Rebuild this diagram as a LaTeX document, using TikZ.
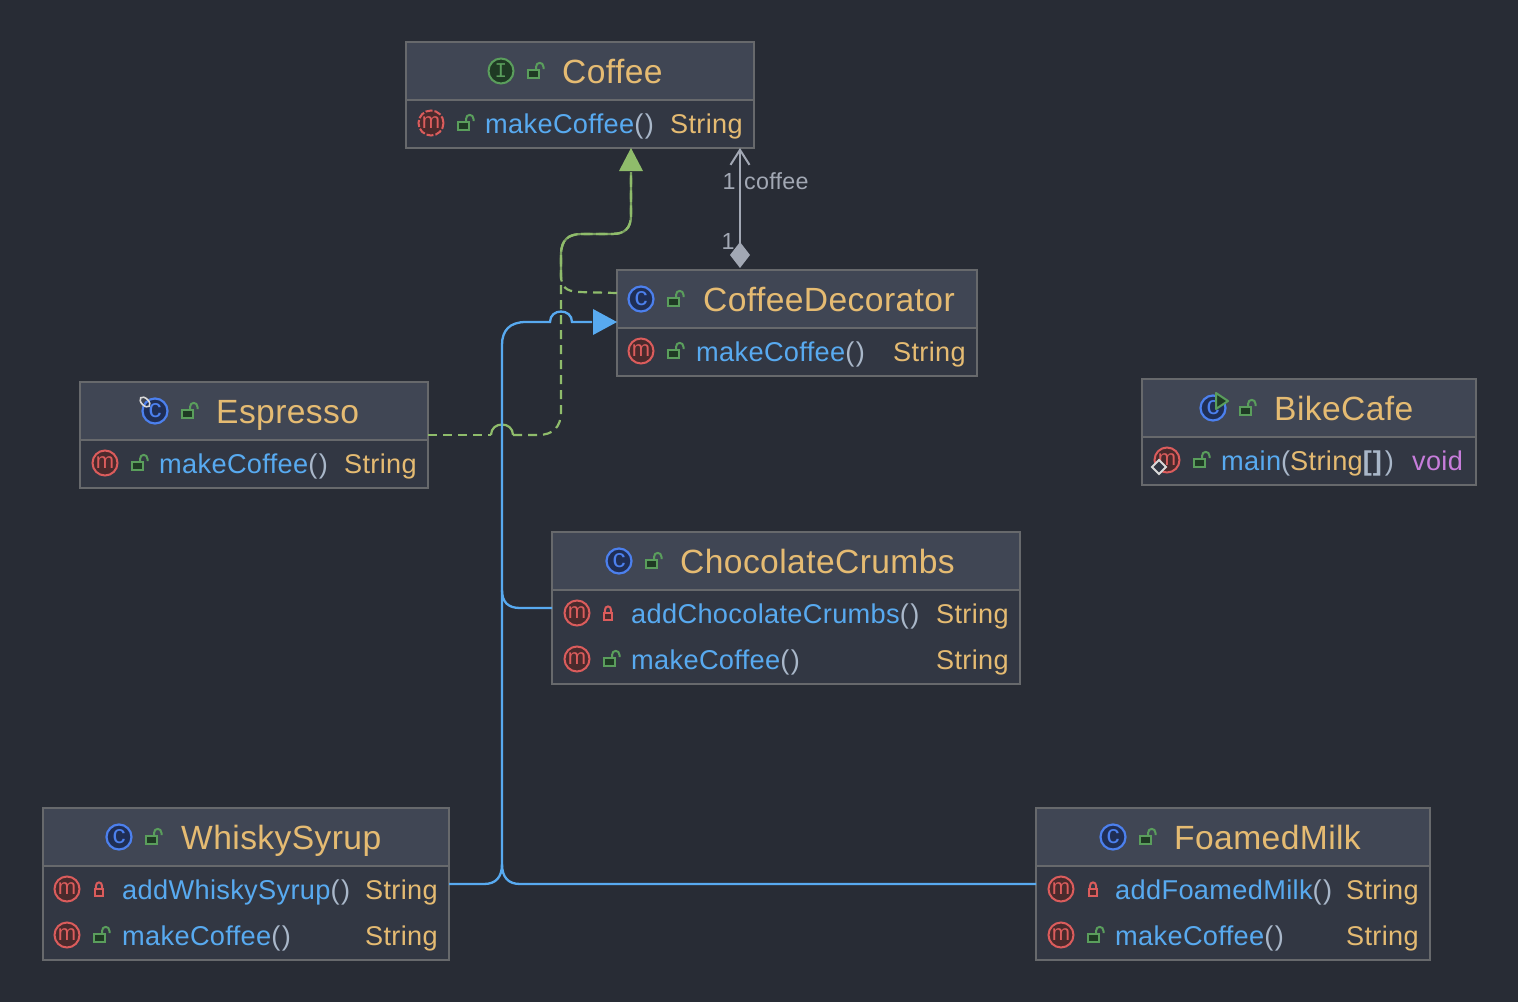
\documentclass[tikz,border=0pt]{standalone}
\usepackage{fontspec}
\setmainfont[LetterSpace=1.2]{Liberation Sans}
\newfontfamily\iconmono{Liberation Mono}
\usetikzlibrary{arrows.meta}
\definecolor{bgc}{HTML}{282C35}
\definecolor{hdrc}{HTML}{404654}
\definecolor{bdyc}{HTML}{323743}
\definecolor{edgec}{HTML}{67696C}
\definecolor{goldc}{HTML}{E5BB72}
\definecolor{bluec}{HTML}{58AAF0}
\definecolor{parc}{HTML}{A9B7C9}
\definecolor{purpc}{HTML}{C77DDB}
\definecolor{greyc}{HTML}{A2A8B4}
\definecolor{greenl}{HTML}{8FBC6B}
\definecolor{lockg}{HTML}{5A9E5C}
\definecolor{lockf}{HTML}{1F3A24}
\definecolor{lockr}{HTML}{DB5C5C}
\definecolor{mred}{HTML}{DB5C5C}
\definecolor{mfill}{HTML}{4A2A2C}
\definecolor{cblue}{HTML}{4C80EE}
\definecolor{cfill}{HTML}{1F2E55}
\tikzset{
  hdrbox/.style={rectangle,fill=hdrc,inner sep=0,outer sep=0},
  bdybox/.style={rectangle,fill=bdyc,inner sep=0,outer sep=0},
  framebox/.style={rectangle,draw=edgec,line width=1.5pt,inner sep=0,outer sep=0},
  sepline/.style={draw=edgec,line width=2pt},
  titletext/.style={anchor=base west,inner sep=0,text=goldc,font=\fontsize{33.6}{36}\selectfont},
  membertext/.style={anchor=base west,inner sep=0,text=bluec,font=\fontsize{27.2}{30}\selectfont},
  typetext/.style={anchor=base west,inner sep=0,text=goldc,font=\fontsize{27.1}{30}\selectfont},
  micon/.style={circle,draw=mred,fill=mfill,text=mred,line width=2pt,minimum size=25pt,inner sep=0,font=\fontsize{22}{22}\selectfont},
  cicon/.style={circle,draw=cblue,fill=cfill,text=cblue,line width=2.2pt,minimum size=25pt,inner sep=0,font=\fontsize{26}{26}\selectfont},
  iicon/.style={circle,draw=lockg,fill=lockf,text=lockg,line width=2pt,minimum size=25pt,inner sep=0,font=\iconmono\fontsize{21}{21}\selectfont},
  lockgbody/.style={rectangle,draw=lockg,fill=lockf,line width=2pt,minimum width=10.5pt,minimum height=8.5pt,inner sep=0},
  lockrbody/.style={rectangle,draw=lockr,fill=mfill,line width=2pt,minimum width=8.5pt,minimum height=7pt,inner sep=0},
  depline/.style={draw=greenl,line width=2.2pt,dash pattern=on 9pt off 6pt},
  depsolid/.style={draw=greenl,line width=2.2pt},
  depunder/.style={draw=greenl!80!bgc,line width=2.2pt},
  extline/.style={draw=bluec,line width=2.3pt},
  edgelabel/.style={inner sep=0,text=greyc,font=\fontsize{23.3}{25}\selectfont},
}
\newcommand\parens{\textcolor{parc}{(\kern1.5pt)}}
% name, x1, y1, x2, ysep, y2
\newcommand\classbox[6]{%
  \node[hdrbox,anchor=north west,minimum width={(#4-#2)*1pt},minimum height={(#5-#3)*1pt}] (#1-h) at (#2,#3) {};
  \node[bdybox,anchor=north west,minimum width={(#4-#2)*1pt},minimum height={(#6-#5)*1pt}] (#1-b) at (#2,#5) {};
  \draw[sepline] (#1-h.south west) -- (#1-h.south east);
  \node[framebox,anchor=north west,minimum width={(#4-#2)*1pt},minimum height={(#6-#3)*1pt}] (#1) at (#2,#3) {};
}
% name, x, y
\newcommand\lockopen[3]{%
  \begin{scope}[shift={(#2,#3)}]
  \draw[lockg,line width=2pt] (-1,-1) -- (-1,-4) .. controls (-1,-9.5) and (6.5,-9.5) .. (6.5,-4) -- (6.5,-2);
  \node[lockgbody] (#1) at (-3.5,3) {};
  \end{scope}
}
\newcommand\lockshut[3]{%
  \begin{scope}[shift={(#2,#3)}]
  \draw[lockr,line width=2pt] (-3.2,0) -- (-3.2,-2.5) .. controls (-3.2,-8) and (3.2,-8) .. (3.2,-2.5) -- (3.2,0);
  \node[lockrbody] (#1) at (0,3) {};
  \end{scope}
}
\begin{document}
\begin{tikzpicture}[x=1pt,y=-1pt]
\fill[bgc] (0,0) rectangle (1518,1002);
\useasboundingbox (0,0) rectangle (1518,1002);

\classbox{coffee}{406}{42}{754}{100}{148}
\classbox{deco}{617}{270}{977}{328}{376}
\classbox{espresso}{80}{382}{428}{440}{488}
\classbox{bike}{1142}{379}{1476}{437}{485}
\classbox{choc}{552}{532}{1020}{590}{684}
\classbox{whisky}{43}{808}{449}{866}{960}
\classbox{milk}{1036}{808}{1430}{866}{960}

% routing guides
\coordinate (gx) at (631,172);
\coordinate (dy) at (0,293);
\coordinate (ey) at (0,435);
\coordinate (ax) at (740,0);
\coordinate (by) at (0,322);
\coordinate (cy) at (0,608);
\coordinate (wy) at (0,884);
\coordinate (tipb) at (592,322);

% Coffee title
\node[iicon] (coffee-i) at (501,71) {I};
\lockopen{coffee-l}{537}{71}
\node[titletext] (coffee-t) at (562,83) {Coffee};
\node[micon,dash pattern=on 7pt off 2pt] (coffee-m1) at (431,123) {m};
\lockopen{coffee-l1}{467}{123}
\node[membertext] (coffee-n1) at (485,133) {makeCoffee\parens};
\node[typetext] (coffee-y1) at (670,133) {String};

% CoffeeDecorator
\node[cicon] (deco-i) at (641,299) {c};
\lockopen{deco-l}{677}{299}
\node[titletext] (deco-t) at (703,311) {CoffeeDecorator};
\node[micon] (deco-m1) at (641,351) {m};
\lockopen{deco-l1}{677}{351}
\node[membertext] (deco-n1) at (696,361) {makeCoffee\parens};
\node[typetext] (deco-y1) at (893,361) {String};

% Espresso
\node[cicon] (esp-i) at (155,411) {c};
\draw[white!85!black,line width=1.6pt,rotate around={-45:(145,402)}] (145,402) ellipse [x radius=6,y radius=3.5];
\lockopen{esp-l}{191}{411}
\node[titletext] (esp-t) at (216,423) {Espresso};
\node[micon] (esp-m1) at (105,463) {m};
\lockopen{esp-l1}{141}{463}
\node[membertext] (esp-n1) at (159,473) {makeCoffee\parens};
\node[typetext] (esp-y1) at (344,473) {String};

% BikeCafe
\node[cicon] (bike-i) at (1213,408) {c};
\fill[lockf,draw=lockg,line width=2pt,line join=round] (1216,393) -- (1228,401) -- (1216,409) -- cycle;
\lockopen{bike-l}{1249}{408}
\node[titletext] (bike-t) at (1274,420) {BikeCafe};
\node[micon] (bike-m1) at (1167,460) {m};
\fill[bdyc,draw=white!85!black,line width=1.8pt] (1159,460) -- (1166,467) -- (1159,474) -- (1152,467) -- cycle;
\lockopen{bike-l1}{1203}{460}
\node[membertext] (bike-n1) at (1221,470) {main\textcolor{parc}{(}\textcolor{goldc}{String}\textcolor{parc}{\textbf{[\kern1pt]}\kern2.5pt)}};
\node[typetext,text=purpc] (bike-y1) at (1412,470) {void};

% ChocolateCrumbs
\node[cicon] (choc-i) at (619,561) {c};
\lockopen{choc-l}{655}{561}
\node[titletext] (choc-t) at (680,573) {ChocolateCrumbs};
\node[micon] (choc-m1) at (577,613) {m};
\lockshut{choc-l1}{608}{613}
\node[membertext] (choc-n1) at (631,623) {addChocolateCrumbs\parens};
\node[typetext] (choc-y1) at (936,623) {String};
\node[micon] (choc-m2) at (577,659) {m};
\lockopen{choc-l2}{613}{659}
\node[membertext] (choc-n2) at (631,669) {makeCoffee\parens};
\node[typetext] (choc-y2) at (936,669) {String};

% WhiskySyrup
\node[cicon] (wh-i) at (119,837) {c};
\lockopen{wh-l}{155}{837}
\node[titletext] (wh-t) at (181,849) {WhiskySyrup};
\node[micon] (wh-m1) at (67,889) {m};
\lockshut{wh-l1}{99}{889}
\node[membertext] (wh-n1) at (122,899) {addWhiskySyrup\parens};
\node[typetext] (wh-y1) at (365,899) {String};
\node[micon] (wh-m2) at (67,935) {m};
\lockopen{wh-l2}{103}{935}
\node[membertext] (wh-n2) at (122,945) {makeCoffee\parens};
\node[typetext] (wh-y2) at (365,945) {String};

% FoamedMilk
\node[cicon] (milk-i) at (1113,837) {c};
\lockopen{milk-l}{1149}{837}
\node[titletext] (milk-t) at (1174,849) {FoamedMilk};
\node[micon] (milk-m1) at (1061,889) {m};
\lockshut{milk-l1}{1093}{889}
\node[membertext] (milk-n1) at (1115,899) {addFoamedMilk\parens};
\node[typetext] (milk-y1) at (1346,899) {String};
\node[micon] (milk-m2) at (1061,935) {m};
\lockopen{milk-l2}{1097}{935}
\node[membertext] (milk-n2) at (1115,945) {makeCoffee\parens};
\node[typetext] (milk-y2) at (1346,945) {String};

% shared run of both realizations
\draw[depunder] (561,278) -- (561,255)
  .. controls (561,240) and (568,234) .. (582,234) -- (612,234)
  .. controls (625,234) and (631,228) .. (631,215) -- (gx);
% implements: CoffeeDecorator -> Coffee
\draw[depline] (deco.west |- dy) -- (578,292) .. controls (566,291) and (561,287) .. (561,275) -- (561,255)
  .. controls (561,240) and (568,234) .. (582,234) -- (612,234)
  .. controls (625,234) and (631,228) .. (631,215) -- (gx);
% implements: Espresso -> Coffee
\draw[depline] (espresso.east |- ey) -- (491,435);
\draw[depsolid] (491,435) .. controls (491,421) and (513,421) .. (513,435);
\draw[depline] (513,435) -- (538,435) .. controls (553,435) and (561,427) .. (561,412) -- (561,255)
  .. controls (561,240) and (568,234) .. (582,234) -- (612,234)
  .. controls (625,234) and (631,228) .. (631,215) -- (gx);
\fill[greenl] (coffee.south -| gx) -- ++(12,23) -- ++(-24,0) -- cycle;

% extends: decorators -> CoffeeDecorator
\draw[extline] (whisky.east |- wy) -- (484,884) .. controls (496,884) and (502,877) .. (502,864) -- (502,345)
  .. controls (502,330) and (510,322) .. (526,322) -- (550,322)
  .. controls (550,308) and (572,308) .. (572,322) -- (tipb);
\draw[extline] (choc.west |- cy) -- (520,608) .. controls (508,608) and (502,602) .. (502,590);
\draw[extline] (milk.west |- wy) -- (520,884) .. controls (508,884) and (502,877) .. (502,864);
\fill[bluec] (deco.west |- by) -- ++(-24,-13) -- ++(0,26) -- cycle;

% association
\draw[greyc,line width=2pt,shorten >=2pt,{Straight Barb[length=15pt,width=19pt,line width=2pt]}-{Turned Square[length=26pt,width=20pt]}] (coffee.south -| ax) -- (deco.north -| ax);
\node[edgelabel] (ass-a) at (729,181) {1};
\node[edgelabel,anchor=west] (ass-b) at (744,181) {coffee};
\node[edgelabel] (ass-c) at (728,241) {1};
\end{tikzpicture}
\end{document}
